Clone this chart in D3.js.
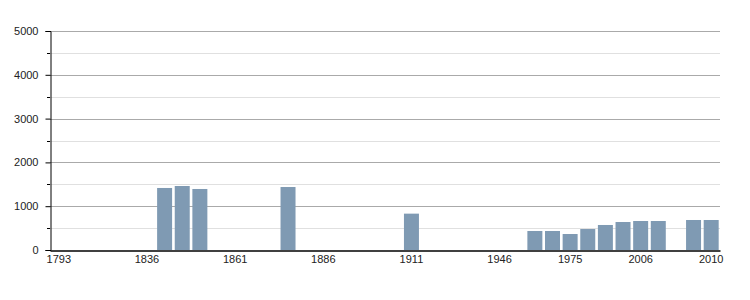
<!DOCTYPE html>
<html>
<head>
<meta charset="utf-8">
<script src="https://cdn.jsdelivr.net/npm/d3@7"></script>
<style>
  body { margin: 0; background: #fff; }
  svg text { font-family: "Liberation Sans", Arial, sans-serif; font-size: 11px; fill: #222; }
</style>
</head>
<body>
<svg id="chart" width="750" height="300"></svg>
<script>
// census years (one slot each)
var years = ["1793","1800","1806","1821","1831","1836","1841","1846","1851","1856",
  "1861","1866","1872","1876","1881","1886","1891","1896","1901","1906",
  "1911","1921","1926","1931","1936","1946","1954","1962","1968","1975",
  "1982","1990","1999","2006","2007","2008","2009","2010"];

// population, null where no figure
var population = [null,null,null,null,null,null,1416,1461,1393,null,
  null,null,null,1438,null,null,null,null,null,null,
  830,null,null,null,null,null,null,434,434,365,
  479,571,639,662,662,null,685,685];

var tickYears = ["1793","1836","1861","1886","1911","1946","1975","2006","2010"];
var yMajor = [0,1000,2000,3000,4000,5000];
var yMinor = [500,1500,2500,3500,4500];

var svg = d3.select("#chart");
var plotLeft = 50, plotRight = 720, plotTop = 31, plotBottom = 250;

var xScale = d3.scaleBand()
  .domain(years)
  .range([plotLeft, plotRight])
  .paddingInner(0.15)
  .paddingOuter(0.075);

var yScale = d3.scaleLinear()
  .domain([0, 5000])
  .range([plotBottom, plotTop]);

// grid lines
svg.append("g").selectAll("line")
  .data(yMinor).enter().append("line")
  .attr("x1", plotLeft).attr("x2", plotRight)
  .attr("y1", function(d) { return Math.round(yScale(d)) + 0.5; })
  .attr("y2", function(d) { return Math.round(yScale(d)) + 0.5; })
  .attr("stroke", "#e0e0e0");

svg.append("g").selectAll("line")
  .data(yMajor.slice(1)).enter().append("line")
  .attr("x1", plotLeft).attr("x2", plotRight)
  .attr("y1", function(d) { return Math.round(yScale(d)) + 0.5; })
  .attr("y2", function(d) { return Math.round(yScale(d)) + 0.5; })
  .attr("stroke", "#aaaaaa");

// bars
var data = years.map(function(y, i) { return {year: y, pop: population[i]}; })
  .filter(function(d) { return d.pop != null; });

svg.append("g").selectAll("rect")
  .data(data).enter().append("rect")
  .attr("x", function(d) { return xScale(d.year); })
  .attr("width", xScale.bandwidth())
  .attr("y", function(d) { return yScale(d.pop); })
  .attr("height", function(d) { return plotBottom - yScale(d.pop); })
  .attr("fill", "#7f9ab3");

// y axis
var yAxis = svg.append("g")
  .attr("transform", "translate(" + (plotLeft + 0.5) + ",0)")
  .call(d3.axisLeft(yScale).tickValues(yMajor).tickSize(5).tickPadding(7).tickFormat(d3.format("d")));
yAxis.select(".domain").attr("stroke", "#000");
yAxis.selectAll(".tick line").attr("stroke", "#000");

svg.append("g").selectAll("line")
  .data(yMinor).enter().append("line")
  .attr("x1", plotLeft - 3).attr("x2", plotLeft)
  .attr("y1", function(d) { return Math.round(yScale(d)) + 0.5; })
  .attr("y2", function(d) { return Math.round(yScale(d)) + 0.5; })
  .attr("stroke", "#000");

// x axis
var xAxis = svg.append("g")
  .attr("transform", "translate(0," + (plotBottom + 0.5) + ")")
  .call(d3.axisBottom(xScale).tickValues(tickYears).tickSize(0).tickPadding(5).tickSizeOuter(0));
xAxis.select(".domain").attr("stroke", "#000").attr("stroke-width", 1.5);
svg.selectAll("text").attr("font-family", null).attr("font-size", null);
</script>
</body>
</html>
